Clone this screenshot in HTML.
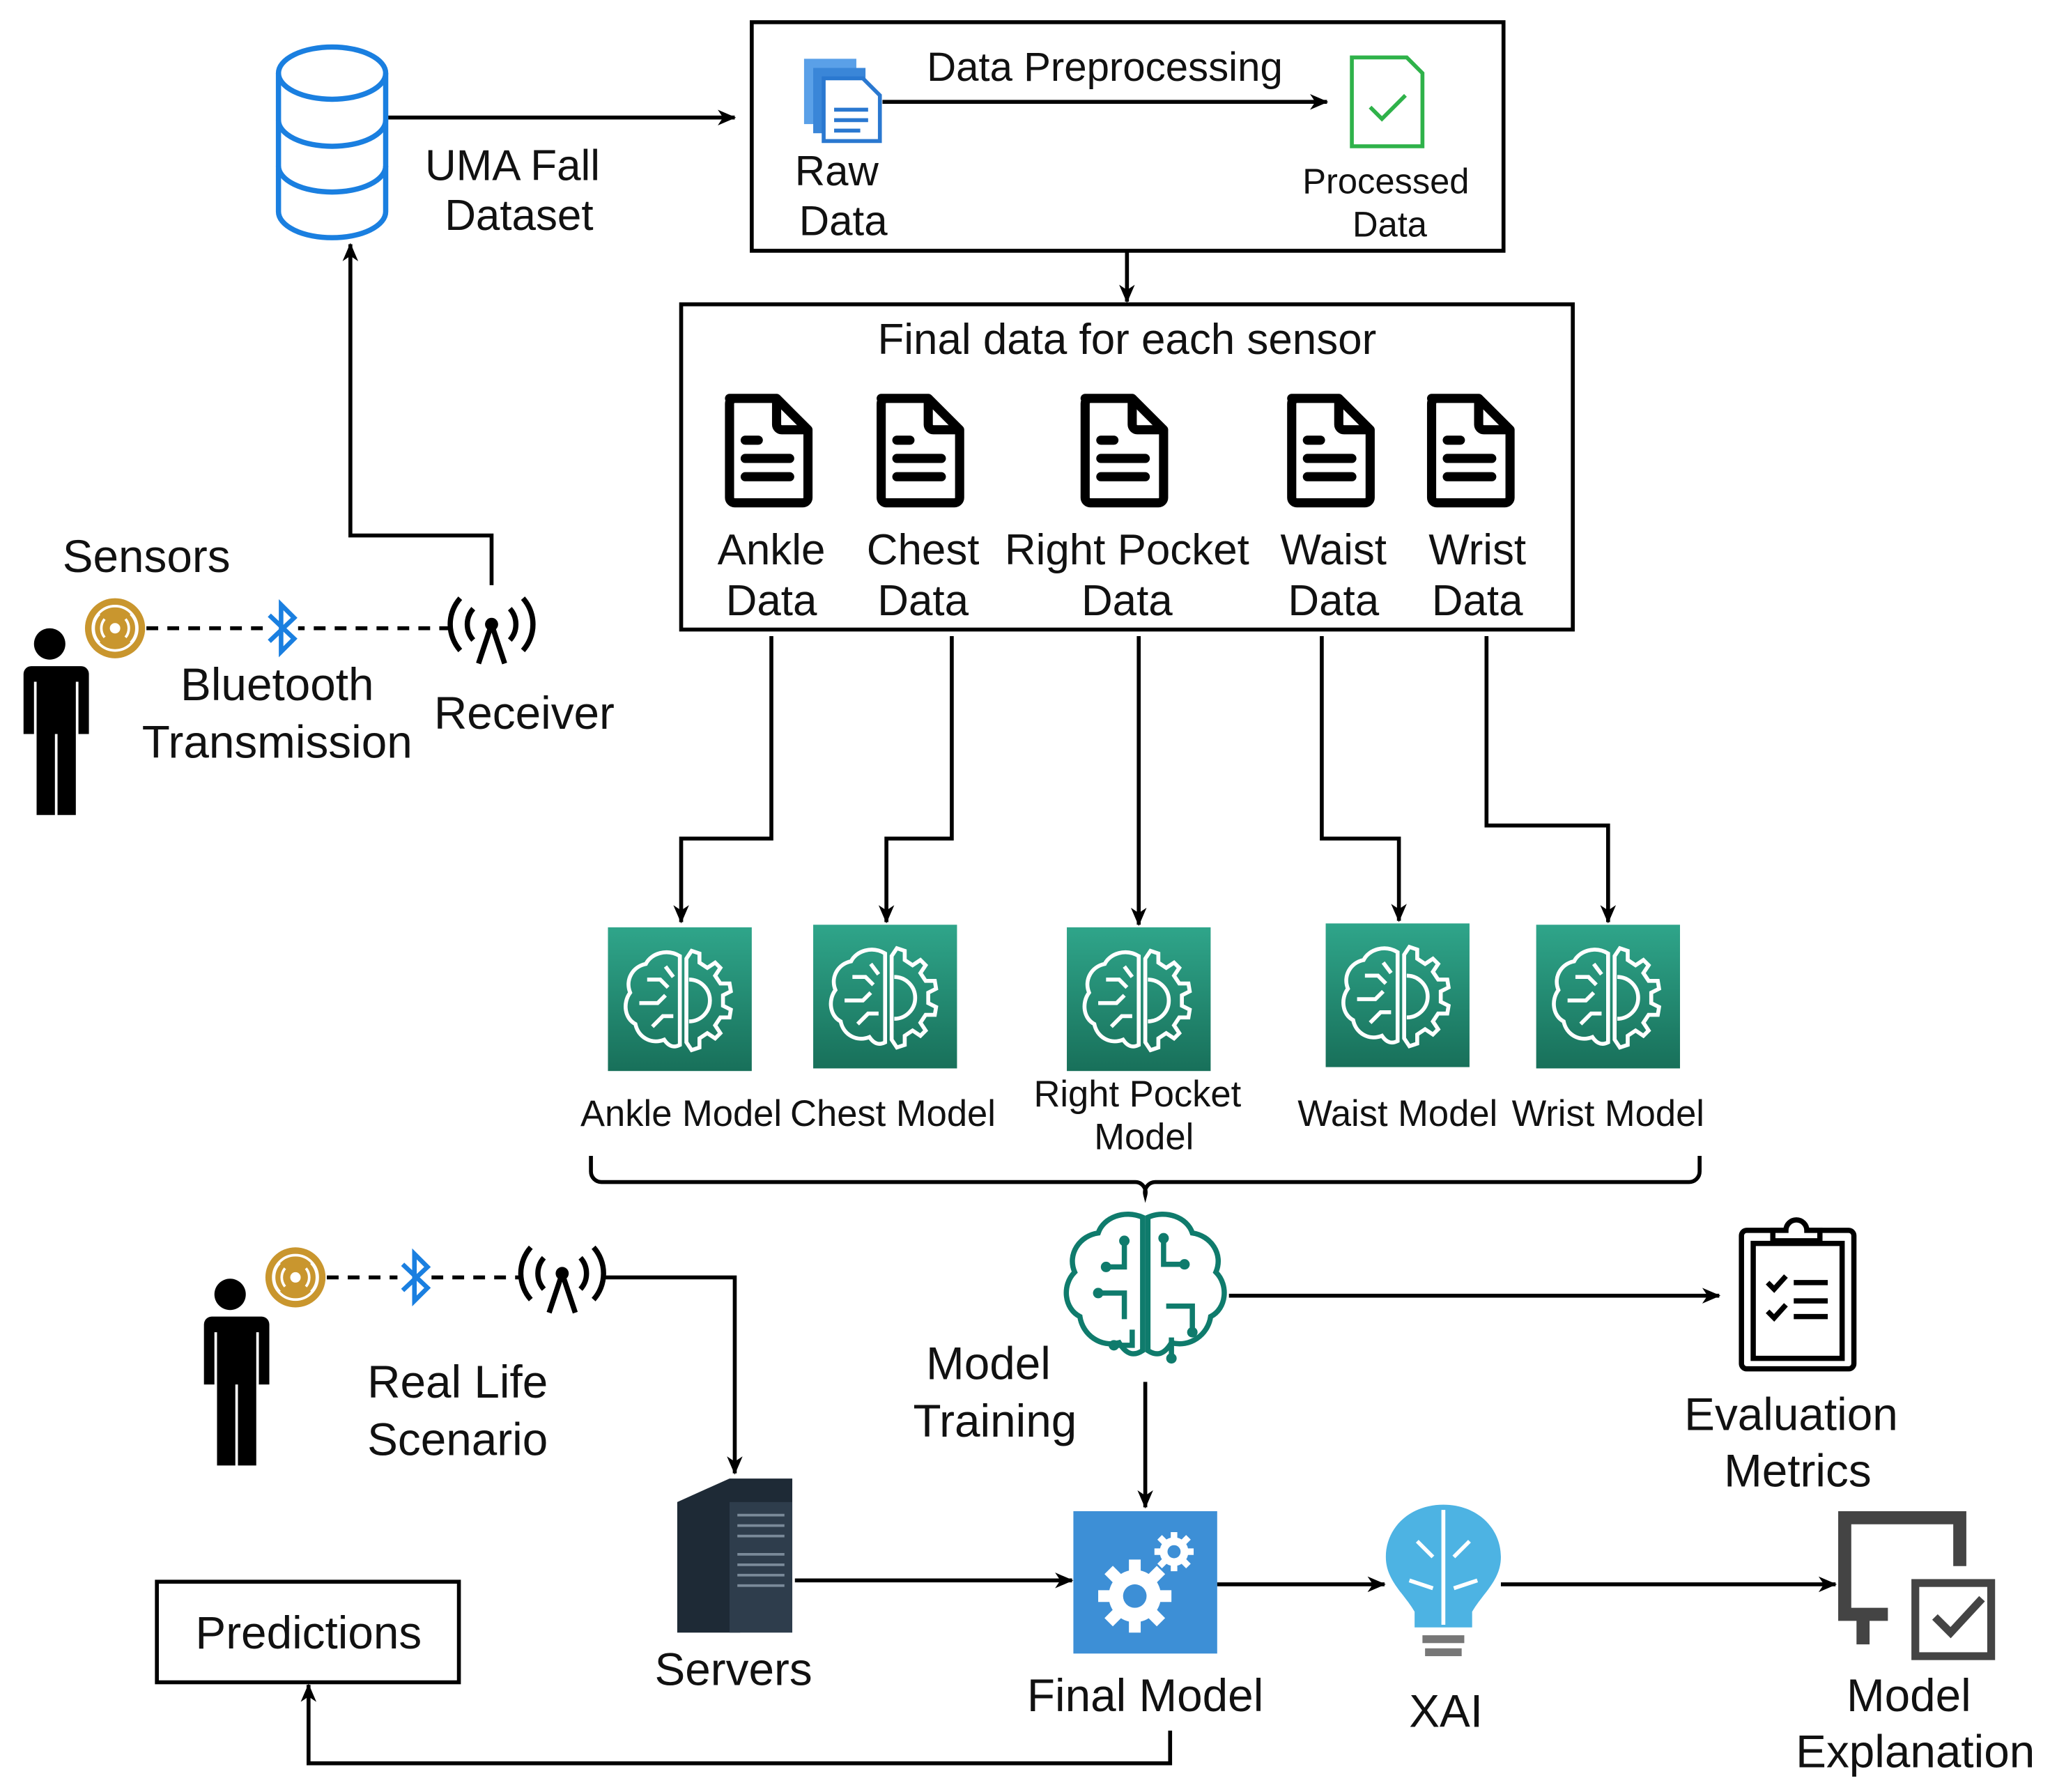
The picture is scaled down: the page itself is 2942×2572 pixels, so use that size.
<!DOCTYPE html>
<html><head><meta charset="utf-8"><style>
html,body{margin:0;padding:0;background:#fff;}
svg{display:block;}
text{font-family:"Liberation Sans",Arial,sans-serif;fill:#111;text-anchor:middle;}
</style></head><body>
<svg width="2942" height="2572" viewBox="0 0 1568 1372" preserveAspectRatio="none" xmlns="http://www.w3.org/2000/svg">
<defs>
<marker id="ar" markerWidth="14" markerHeight="12" refX="13" refY="6" orient="auto" markerUnits="userSpaceOnUse"><path d="M0,0 L14,6 L0,12 L4,6 Z" fill="#000"/></marker>
<linearGradient id="gg" x1="0" y1="0" x2="0" y2="1"><stop offset="0" stop-color="#2fa58a"/><stop offset="1" stop-color="#18705a"/></linearGradient>
<g id="doc"><path d="M-30,-38 h36 l24,24 v52 a4,4 0 0 1 -4,4 h-52 a4,4 0 0 1 -4,-4 v-72 a4,4 0 0 1 4,-4 z" fill="none" stroke="#000" stroke-width="7" stroke-linejoin="round"/><path d="M6,-38 v20 a4,4 0 0 0 4,4 h20" fill="none" stroke="#000" stroke-width="7"/><path d="M-18,-6 h10 M-18,8 h34 M-18,22 h34" stroke="#000" stroke-width="7" stroke-linecap="round"/></g>
<g id="mdl"><rect x="0" y="0" width="110" height="110" fill="url(#gg)"/><g fill="none" stroke="#fff" stroke-width="3"><path d="M55,22 c-10,-6 -22,-2 -26,6 c-10,2 -16,12 -12,22 c-6,8 -4,20 4,24 c2,10 12,16 22,12 c4,6 8,6 12,4 z"/><path d="M30,40 h10 l6,6 M24,58 h14 l6,-6 M34,76 l8,-8 h8 M44,30 l6,8"/><path d="M60,24 l4,-6 6,2 0,7 6,4 6,-4 4,4 -4,6 4,6 7,0 1,6 -6,3 0,8 6,3 -1,6 -7,0 -4,6 4,6 -4,4 -6,-4 -6,4 0,7 -6,2 -4,-6 z"/><path d="M62,40 a16,16 0 0 1 0,32"/></g></g>
<g id="person"><circle cx="28" cy="13" r="12" fill="#000"/><path d="M4,30 h48 a6,6 0 0 1 6,6 v46 h-8 v-40 h-2 v102 h-14 v-62 h-2 v62 h-14 v-102 h-2 v40 h-8 v-46 a6,6 0 0 1 6,-6 z" fill="#000"/></g>
<g id="sens"><circle r="23" fill="#c9962e"/><circle r="17" fill="none" stroke="#fff" stroke-width="2"/><circle r="4" fill="#fff"/><path d="M-8,-7 a11,11 0 0 0 0,14 M8,-7 a11,11 0 0 1 0,14 M-12,-11 a16,16 0 0 0 0,22 M12,-11 a16,16 0 0 1 0,22" fill="none" stroke="#fff" stroke-width="2"/></g>
<g id="bt"><path d="M-9,-10 L10,8 L0,18 V-18 L10,-8 L-9,10" fill="none" stroke="#1a7fe0" stroke-width="3.5"/></g>
<g id="ant"><circle r="5" fill="#000"/><path d="M0,0 L-10,30 M0,0 L10,30" stroke="#000" stroke-width="4"/><path d="M-14,-12 a18,18 0 0 0 0,24 M14,-12 a18,18 0 0 1 0,24 M-24,-20 a30,30 0 0 0 0,40 M24,-20 a30,30 0 0 1 0,40" fill="none" stroke="#000" stroke-width="4"/></g>
<g id="gear"><circle r="1" fill="#fff"/></g>
</defs>

<!-- database -->
<g fill="none" stroke="#1a7fe0" stroke-width="4">
<ellipse cx="254" cy="56" rx="41" ry="20"/>
<path d="M213,56 V162 a41,20 0 0 0 82,0 V56"/>
<path d="M213,92 a41,20 0 0 0 82,0 M213,127 a41,20 0 0 0 82,0"/>
</g>
<line x1="297" y1="90" x2="562" y2="90" stroke="#000" stroke-width="3" marker-end="url(#ar)"/>
<text x="392" y="138" font-size="33">UMA Fall</text>
<text x="397" y="176" font-size="33">Dataset</text>

<!-- top box -->
<rect x="575" y="17" width="575" height="175" fill="none" stroke="#000" stroke-width="3"/>
<g><rect x="615" y="45" width="40" height="50" fill="#5aa0e8"/><rect x="622" y="52" width="40" height="50" fill="#3a86d8"/><path d="M630,60 h30 l13,13 v35 h-43 z" fill="#fff" stroke="#2a78d0" stroke-width="3"/><path d="M638,84 h26 M638,92 h26 M638,100 h20" stroke="#2a78d0" stroke-width="3"/></g>
<text x="640" y="142" font-size="32">Raw</text>
<text x="645" y="180" font-size="32">Data</text>
<text x="845" y="62" font-size="31">Data Preprocessing</text>
<line x1="675" y1="78" x2="1015" y2="78" stroke="#000" stroke-width="3" marker-end="url(#ar)"/>
<path d="M1034,44 h42 l12,12 v56 h-54 z" fill="none" stroke="#2fb24a" stroke-width="3"/>
<path d="M1048,82 l9,9 l18,-18" fill="none" stroke="#2fb24a" stroke-width="3"/>
<text x="1060" y="148" font-size="27">Processed</text>
<text x="1063" y="181" font-size="27">Data</text>
<line x1="862" y1="192" x2="862" y2="231" stroke="#000" stroke-width="3" marker-end="url(#ar)"/>

<!-- second box -->
<rect x="521" y="233" width="682" height="249" fill="none" stroke="#000" stroke-width="3"/>
<text x="862" y="271" font-size="33">Final data for each sensor</text>
<use href="#doc" x="588" y="343"/><use href="#doc" x="704" y="343"/><use href="#doc" x="860" y="343"/><use href="#doc" x="1018" y="343"/><use href="#doc" x="1125" y="343"/>
<g font-size="33">
<text x="590" y="432">Ankle</text><text x="590" y="471">Data</text>
<text x="706" y="432">Chest</text><text x="706" y="471">Data</text>
<text x="862" y="432">Right Pocket</text><text x="862" y="471">Data</text>
<text x="1020" y="432">Waist</text><text x="1020" y="471">Data</text>
<text x="1130" y="432">Wrist</text><text x="1130" y="471">Data</text>
</g>
<g fill="none" stroke="#000" stroke-width="3">
<path d="M590,487 V642 H521 V706" marker-end="url(#ar)"/>
<path d="M728,487 V642 H678 V706" marker-end="url(#ar)"/>
<path d="M871,487 V708" marker-end="url(#ar)"/>
<path d="M1011,487 V642 H1070 V705" marker-end="url(#ar)"/>
<path d="M1137,487 V632 H1230 V706" marker-end="url(#ar)"/>
</g>
<use href="#mdl" x="465" y="710"/><use href="#mdl" x="622" y="708"/><use href="#mdl" x="816" y="710"/><use href="#mdl" x="1014" y="707"/><use href="#mdl" x="1175" y="708"/>
<g font-size="28">
<text x="521" y="862">Ankle Model</text>
<text x="683" y="862">Chest Model</text>
<text x="870" y="847">Right Pocket</text>
<text x="875" y="880">Model</text>
<text x="1069" y="862">Waist Model</text>
<text x="1230" y="862">Wrist Model</text>
</g>
<path d="M452,885 v12 a8,8 0 0 0 8,8 H868 a8,8 0 0 1 8,10 a8,8 0 0 1 8,-10 H1292 a8,8 0 0 0 8,-8 v-12" fill="none" stroke="#000" stroke-width="3"/>

<!-- training brain -->
<g fill="none" stroke="#0f7b6c" stroke-width="4">
<path d="M874,932 c-14,-6 -30,0 -34,12 c-14,2 -24,16 -18,30 c-10,10 -8,28 4,34 c2,14 16,24 30,20 c6,10 12,10 18,6 z"/>
<path d="M878,932 c14,-6 30,0 34,12 c14,2 24,16 18,30 c10,10 8,28 -4,34 c-2,14 -16,24 -30,20 c-6,10 -12,10 -18,6 z"/>
<path d="M860,950 v20 h-14 M840,990 h20 v20 M852,1030 h14 v-12 M890,948 v20 h16 M892,1000 h20 v20 M896,1040 v-16"/>
</g>
<g fill="#0f7b6c"><circle cx="860" cy="950" r="4"/><circle cx="846" cy="970" r="4"/><circle cx="840" cy="990" r="4"/><circle cx="852" cy="1030" r="4"/><circle cx="890" cy="948" r="4"/><circle cx="906" cy="968" r="4"/><circle cx="912" cy="1020" r="4"/><circle cx="896" cy="1040" r="4"/></g>
<line x1="940" y1="992" x2="1315" y2="992" stroke="#000" stroke-width="3" marker-end="url(#ar)"/>
<!-- clipboard -->
<g fill="none" stroke="#000" stroke-width="4">
<rect x="1332" y="942" width="86" height="106" rx="4"/>
<rect x="1341" y="952" width="68" height="88"/>
<path d="M1356,950 v-8 h10 a8,8 0 0 1 16,0 h10 v8 z" fill="#fff"/>
<path d="M1352,982 l5,5 9,-10 M1352,1004 l5,5 9,-10 M1372,982 h26 M1372,996 h26 M1372,1008 h26"/>
</g>
<text x="1370" y="1095" font-size="35">Evaluation</text>
<text x="1375" y="1138" font-size="35">Metrics</text>
<text x="756" y="1056" font-size="35">Model</text>
<text x="761" y="1100" font-size="35">Training</text>
<line x1="876" y1="1058" x2="876" y2="1154" stroke="#000" stroke-width="3" marker-end="url(#ar)"/>

<!-- final model -->
<rect x="821" y="1157" width="110" height="109" fill="#3d8fd6"/>
<g fill="#fff">
<circle cx="868" cy="1222" r="20"/>
<g stroke="#fff" stroke-width="9"><path d="M868,1194 v56 M840,1222 h56 M848,1202 l40,40 M888,1202 l-40,40"/></g>
<circle cx="898" cy="1188" r="11"/>
<g stroke="#fff" stroke-width="5"><path d="M898,1173 v30 M883,1188 h30 M887,1177 l22,22 M909,1177 l-22,22"/></g>
</g>
<circle cx="868" cy="1222" r="9" fill="#3d8fd6"/><circle cx="898" cy="1188" r="5" fill="#3d8fd6"/>
<text x="876" y="1310" font-size="35">Final Model</text>

<!-- server -->
<path d="M518,1150 l40,-18 h48 v100 l-40,18 h-48 z" fill="#1e2a36"/>
<path d="M558,1150 h48 v100 h-48 z" fill="#2e3d4c"/>
<path d="M564,1160 h36 M564,1168 h36 M564,1176 h36 M564,1190 h36 M564,1198 h36 M564,1206 h36 M564,1214 h36" stroke="#7a8a99" stroke-width="2"/>
<text x="561" y="1290" font-size="35">Servers</text>
<line x1="608" y1="1210" x2="820" y2="1210" stroke="#000" stroke-width="3" marker-end="url(#ar)"/>
<line x1="931" y1="1213" x2="1059" y2="1213" stroke="#000" stroke-width="3" marker-end="url(#ar)"/>

<!-- XAI -->
<path d="M1104,1152 c-26,0 -44,18 -44,40 c0,18 14,28 22,42 v12 h44 v-12 c8,-14 22,-24 22,-42 c0,-22 -18,-40 -44,-40 z" fill="#4db3e3"/>
<path d="M1104,1156 v88 M1084,1180 l12,12 M1124,1180 l-12,12 M1078,1210 l18,6 M1130,1210 l-18,6" stroke="#fff" stroke-width="3" fill="none"/>
<rect x="1088" y="1252" width="32" height="6" fill="#777"/><rect x="1090" y="1262" width="28" height="6" fill="#777"/>
<text x="1106" y="1322" font-size="35">XAI</text>
<line x1="1148" y1="1213" x2="1404" y2="1213" stroke="#000" stroke-width="3" marker-end="url(#ar)"/>

<!-- model explanation -->
<path d="M1406,1157 h98 v42 h-10 v-32 h-78 v64 h28 v10 h-14 v18 h-10 v-18 h-14 z" fill="#444"/>
<rect x="1465" y="1212" width="58" height="56" fill="none" stroke="#444" stroke-width="6"/>
<path d="M1480,1238 l12,12 24,-26" fill="none" stroke="#444" stroke-width="6"/>
<text x="1460" y="1310" font-size="35">Model</text>
<text x="1465" y="1353" font-size="35">Explanation</text>

<!-- predictions -->
<rect x="120" y="1211" width="231" height="77" fill="none" stroke="#000" stroke-width="3"/>
<text x="236" y="1262" font-size="35">Predictions</text>
<path d="M895,1325 V1350 H236 V1290" fill="none" stroke="#000" stroke-width="3" marker-end="url(#ar)"/>

<!-- top-left sensors -->
<text x="112" y="438" font-size="35">Sensors</text>
<use href="#person" x="10" y="480"/>
<line x1="112" y1="481" x2="345" y2="481" stroke="#000" stroke-width="3" stroke-dasharray="9,7"/>
<use href="#sens" x="88" y="481"/>
<rect x="202" y="461" width="26" height="40" fill="#fff"/>
<use href="#bt" x="215" y="481"/>
<use href="#ant" x="376" y="478"/>
<text x="212" y="536" font-size="35">Bluetooth</text>
<text x="212" y="580" font-size="35">Transmission</text>
<text x="401" y="558" font-size="35">Receiver</text>
<path d="M376,448 V410 H268 V187" fill="none" stroke="#000" stroke-width="3" marker-end="url(#ar)"/>

<!-- bottom-left real life -->
<use href="#person" x="148" y="978"/>
<line x1="250" y1="978" x2="400" y2="978" stroke="#000" stroke-width="3" stroke-dasharray="9,7"/>
<use href="#sens" x="226" y="978"/>
<rect x="304" y="958" width="26" height="40" fill="#fff"/>
<use href="#bt" x="317" y="978"/>
<use href="#ant" x="430" y="975"/>
<path d="M462,978 H562 V1128" fill="none" stroke="#000" stroke-width="3" marker-end="url(#ar)"/>
<text x="350" y="1070" font-size="35">Real Life</text>
<text x="350" y="1114" font-size="35">Scenario</text>
</svg>
</body></html>
